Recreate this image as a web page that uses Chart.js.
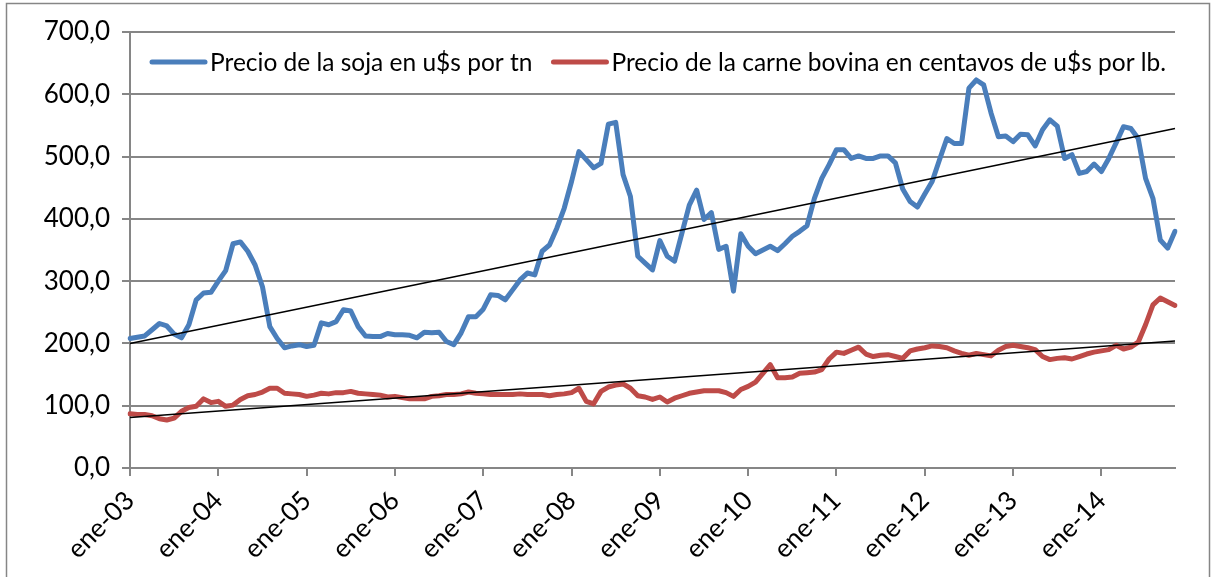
<!DOCTYPE html>
<html>
<head>
<meta charset="utf-8">
<script src="https://cdn.jsdelivr.net/npm/chart.js@4.4.1/dist/chart.umd.min.js"></script>
<style>
  html, body { margin: 0; padding: 0; background: #fff; }
  canvas { display: block; }
</style>
</head>
<body>
<canvas id="chart" width="1213" height="577"></canvas>
<script>
// monthly series, ene-03 .. nov-14
const monthNames = ['ene', 'feb', 'mar', 'abr', 'may', 'jun', 'jul', 'ago', 'sep', 'oct', 'nov', 'dic'];
const years = ['03', '04', '05', '06', '07', '08', '09', '10', '11', '12', '13', '14'];

// Precio de la soja en u$s por tn
const soja = [
  208, 210, 212, 222, 232, 228, 215, 209, 230, 270, 281, 282,
  300, 317, 360, 363, 348, 326, 291, 227, 208, 193, 196, 198,
  195, 197, 233, 230, 235, 254, 252, 227, 212, 211, 211, 216,
  214, 214, 213, 209, 218, 217, 218, 203, 198, 217, 243, 243,
  255, 278, 277, 270, 286, 302, 313, 310, 348, 358, 385, 417,
  460, 508, 495, 482, 489, 552, 555, 471, 436, 340, 329, 318,
  365, 340, 332, 377, 422, 446, 399, 410, 351, 356, 284, 376,
  356, 344, 350, 356, 349, 360, 372, 380, 389, 433, 465, 487,
  511, 511, 497, 501, 497, 497, 501, 501, 490, 448, 428, 419,
  440, 460, 495, 529, 521, 521, 610, 623, 615, 570, 532, 533,
  524, 536, 535, 517, 543, 559, 549, 497, 503, 473, 476, 488,
  476, 497, 522, 548, 545, 529, 465, 433, 366, 353, 380
];

// Precio de la carne bovina en centavos de u$s por lb.
const carne = [
  87, 86, 86, 84, 79, 77, 80, 91, 97, 99, 111, 105,
  107, 99, 101, 110, 116, 118, 122, 128, 128, 120, 119, 118,
  115, 117, 120, 119, 121, 121, 123, 120, 119, 118, 117, 114,
  115, 113, 111, 111, 111, 115, 116, 118, 118, 119, 122, 120,
  119, 118, 118, 118, 118, 119, 118, 118, 118, 116, 118, 119,
  121, 128, 107, 103, 123, 130, 133, 135, 128, 116, 114, 110,
  114, 106, 112, 116, 120, 122, 124, 124, 124, 121, 115, 126,
  131, 138, 152, 166, 145, 145, 146, 152, 153, 154, 158, 175,
  186, 184, 189, 194, 183, 179, 181, 182, 179, 176, 188, 191,
  193, 196, 195, 193, 188, 184, 181, 184, 182, 180, 189, 195,
  197, 195, 193, 190, 179, 174, 176, 177, 175, 179, 183, 186,
  188, 190, 197, 191, 194, 202, 230, 262, 273, 267, 261
];

// linear trend lines, start / end values
const sojaTrend = [200, 545];
const carneTrend = [81, 204];

const yTicks = [0, 100, 200, 300, 400, 500, 600, 700];

const labels = [];
years.forEach(y => monthNames.forEach(m => labels.push(m + '-' + y)));
labels.length = soja.length;

const first = labels[0];
const last = labels[labels.length - 1];

const insideLegend = {
  id: 'insideLegend',
  afterDraw(chart) {
    const ctx = chart.ctx;
    const area = chart.chartArea;
    ctx.save();
    ctx.font = '24.5px Lato';
    ctx.textBaseline = 'middle';
    let x = area.left + 22;
    const y = area.top + 30;
    chart.data.datasets.filter(d => !d.trend).forEach(d => {
      ctx.strokeStyle = d.borderColor;
      ctx.lineWidth = 5;
      ctx.lineCap = 'round';
      ctx.beginPath();
      ctx.moveTo(x, y);
      ctx.lineTo(x + 53, y);
      ctx.stroke();
      x += 58;
      ctx.fillStyle = '#000';
      ctx.fillText(d.label, x, y + 1);
      x += ctx.measureText(d.label).width + 21;
    });
    ctx.restore();
  }
};

const frame = {
  id: 'frame',
  beforeDraw(chart) {
    const ctx = chart.ctx;
    ctx.save();
    ctx.fillStyle = '#fff';
    ctx.fillRect(0, 0, chart.width, chart.height);
    ctx.strokeStyle = '#868686';
    ctx.lineWidth = 1.5;
    ctx.strokeRect(6.5, 3.5, 1203, 620);
    ctx.restore();
  }
};

Chart.defaults.font.family = 'Lato';
Chart.defaults.color = '#000';

new Chart(document.getElementById('chart'), {
  type: 'line',
  data: {
    labels: labels,
    datasets: [
      {
        label: 'Precio de la soja en u$s por tn',
        data: soja,
        borderColor: '#4a7ebb',
        borderWidth: 5,
        pointRadius: 0,
        tension: 0,
        borderJoinStyle: 'round',
        borderCapStyle: 'round',
        fill: false,
      },
      {
        label: 'Precio de la carne bovina en centavos de u$s por lb.',
        data: carne,
        borderColor: '#be4b48',
        borderWidth: 5,
        pointRadius: 0,
        tension: 0,
        borderJoinStyle: 'round',
        borderCapStyle: 'round',
        fill: false,
      },
      {
        label: 'tendencia soja',
        trend: true,
        order: -1,
        data: [{ x: first, y: sojaTrend[0] }, { x: last, y: sojaTrend[1] }],
        borderColor: '#000',
        borderWidth: 1.6,
        pointRadius: 0,
        fill: false,
      },
      {
        label: 'tendencia carne',
        trend: true,
        order: -1,
        data: [{ x: first, y: carneTrend[0] }, { x: last, y: carneTrend[1] }],
        borderColor: '#000',
        borderWidth: 1.6,
        pointRadius: 0,
        fill: false,
      },
    ],
  },
  plugins: [frame, insideLegend],
  options: {
    responsive: false,
    animation: false,
    layout: { padding: { top: 32, right: 38, bottom: 0, left: 0 } },
    plugins: {
      legend: { display: false },
      tooltip: { enabled: false },
      title: { display: false },
    },
    scales: {
      x: {
        type: 'category',
        offset: false,
        afterFit: scale => { scale.height = 109; },
        border: { color: '#868686', width: 2 },
        grid: {
          drawOnChartArea: false,
          drawTicks: true,
          tickLength: 8,
          color: '#868686',
          lineWidth: 2,
        },
        ticks: {
          autoSkip: false,
          maxRotation: 45,
          minRotation: 45,
          padding: 9,
          font: { size: 26 },
          callback: function (value) {
            const lab = this.getLabelForValue(value);
            return lab.startsWith('ene') ? lab : null;
          },
        },
      },
      y: {
        min: 0,
        max: 700,
        afterFit: scale => { scale.width = 130; },
        afterBuildTicks: scale => { scale.ticks = yTicks.map(v => ({ value: v })); },
        border: { color: '#868686', width: 2 },
        grid: {
          color: '#868686',
          lineWidth: 2,
          tickLength: 8,
        },
        ticks: {
          padding: 12,
          font: { size: 26 },
          callback: v => v.toFixed(1).replace('.', ','),
        },
      },
    },
  },
});
</script>
</body>
</html>
